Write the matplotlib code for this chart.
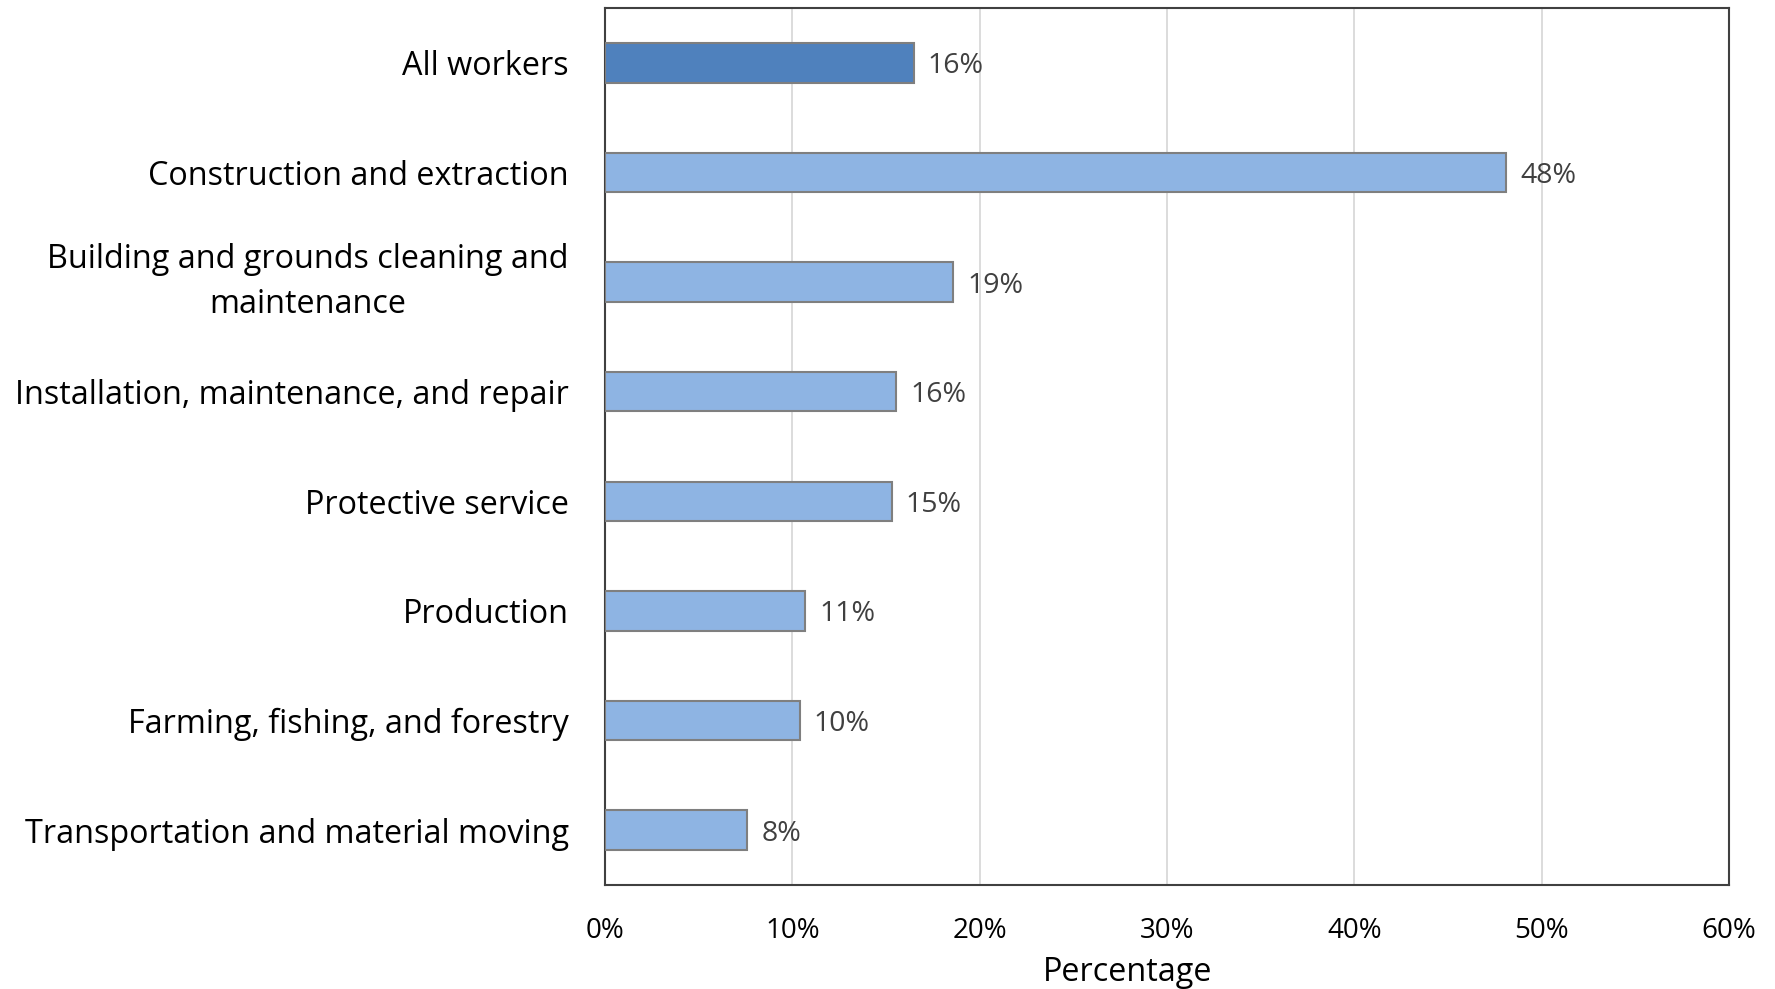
import matplotlib
matplotlib.use("Agg")
import matplotlib.pyplot as plt
from matplotlib.ticker import FuncFormatter

categories = [
    "All workers",
    "Construction and extraction",
    "Building and grounds cleaning and\nmaintenance",
    "Installation, maintenance, and repair",
    "Protective service",
    "Production",
    "Farming, fishing, and forestry",
    "Transportation and material moving",
]
values = [16.5, 48.1, 18.6, 15.55, 15.3, 10.7, 10.4, 7.6]
value_labels = ["16%", "48%", "19%", "16%", "15%", "11%", "10%", "8%"]
colors = ["#4F81BD"] + ["#8EB4E3"] * 7
xticks = [0, 10, 20, 30, 40, 50, 60]

plt.rcParams['font.family'] = ['Open Sans', 'DejaVu Sans']

fig = plt.figure(figsize=(17.75, 9.89), dpi=100)
ax = fig.add_axes([0.3408, 0.1052, 0.9741 - 0.3408, 0.9919 - 0.1052])

y = list(range(len(categories)))
ax.barh(y, values, height=0.36, color=colors, edgecolor="#7F7F7F", linewidth=1.5, zorder=3)
for yi, v, lab in zip(y, values, value_labels):
    ax.annotate(lab, (v, yi), xytext=(10, 0), textcoords="offset points",
                va="center_baseline", ha="left", fontsize=20.5, color="#404040")

ax.set_ylim(len(categories) - 0.5, -0.5)
ax.set_xlim(0, 60)
ax.set_xticks(xticks)
ax.xaxis.set_major_formatter(FuncFormatter(lambda v, p: f"{v:.0f}%"))
ax.set_yticks(y)
ax.set_yticklabels(categories, fontsize=23.3)
for t in ax.get_yticklabels():
    t.set_horizontalalignment("right")
    t.set_multialignment("center")
    if "\n" in t.get_text():
        t.set_linespacing(1.5)
        t.set_verticalalignment("center")
ax.tick_params(axis="y", length=0, pad=26)
ax.tick_params(axis="x", length=0, pad=23, labelsize=20)
ax.grid(axis="x", color="#D9D9D9", linewidth=1.3, zorder=0)
for s in ax.spines.values():
    s.set_color("#404040")
    s.set_linewidth(1.5)
ax.set_xlabel("Percentage", fontsize=23.3)
ax.xaxis.set_label_coords(0.465, -0.1)
ax.xaxis.label.set_va("center")

fig.savefig("out.png", dpi=100)
